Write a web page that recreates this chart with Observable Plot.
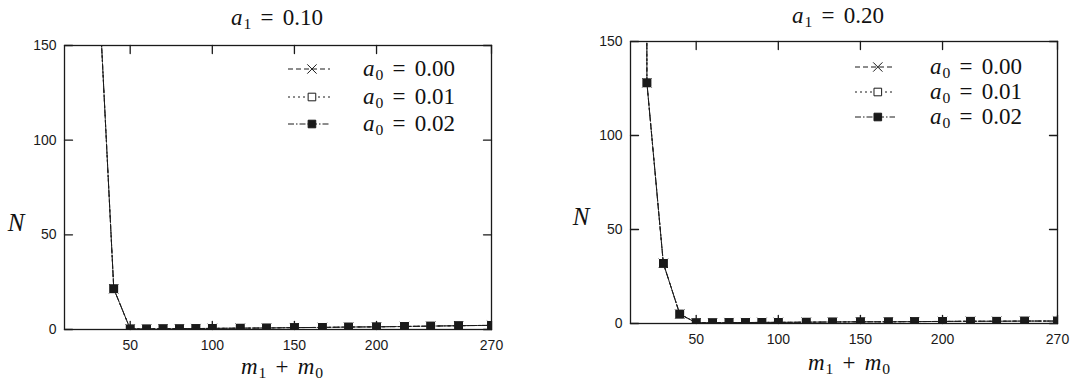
<!DOCTYPE html>
<html>
<head>
<meta charset="utf-8">
<script src="https://cdn.jsdelivr.net/npm/d3@7"></script>
<script src="https://cdn.jsdelivr.net/npm/@observablehq/plot@0.6"></script>
<style>
  html, body { margin: 0; padding: 0; background: #fff; }
  #wrap { position: relative; width: 1073px; height: 380px; overflow: hidden; }
  .panel { position: absolute; top: 0; }
  .lbl { position: absolute; transform: translate(-50%, -50%); font-family: "Liberation Serif", "DejaVu Serif", serif; color: #111; white-space: nowrap; line-height: 1; }
  .lbl i, .row i { font-style: italic; }
  .lbl sub, .row sub { font-size: 0.68em; vertical-align: -0.25em; line-height: 0; margin-left: 1px; }
  .op { margin: 0 0.4em; }
  .leg { position: absolute; font-family: "Liberation Serif", "DejaVu Serif", serif; font-size: 23px; color: #111; }
  .row { position: absolute; left: 0; display: flex; align-items: center; height: 26px; transform: translateY(-50%); white-space: nowrap; }
  .row svg { display: block; }
</style>
</head>
<body>
<div id="wrap">
  <div id="p1" class="panel" style="left:0"></div>
  <div id="p2" class="panel" style="left:536px"></div>
</div>
<script>
// ---- data ----
const seriesNames = ["a0 = 0.00", "a0 = 0.01", "a0 = 0.02"];
const xTicks = [50, 100, 150, 200, 270];
const yTicks = [0, 50, 100, 150];

// panel a1 = 0.10
const mLeft = [30, 40, 50, 60, 70, 80, 90, 100, 117, 133, 150, 167, 183, 200, 217, 233, 250, 270];
const nLeft_a000 = [195, 21.5, 0.3, 0.3, 0.4, 0.4, 0.5, 0.6, 0.7, 0.8, 1.0, 1.1, 1.3, 1.4, 1.6, 1.8, 2.0, 2.2];
const nLeft_a001 = [195, 21.5, 0.3, 0.3, 0.4, 0.4, 0.5, 0.6, 0.7, 0.8, 1.0, 1.1, 1.3, 1.4, 1.6, 1.8, 2.0, 2.2];
const nLeft_a002 = [195, 21.5, 0.3, 0.3, 0.4, 0.4, 0.5, 0.6, 0.7, 0.8, 1.0, 1.1, 1.3, 1.4, 1.6, 1.8, 2.0, 2.2];

// panel a1 = 0.20
const mRight = [10, 20, 30, 40, 50, 60, 70, 80, 90, 100, 117, 133, 150, 167, 183, 200, 217, 233, 250, 270];
const nRight_a000 = [5000, 128, 32, 5, 0.4, 0.4, 0.5, 0.5, 0.6, 0.6, 0.7, 0.8, 0.9, 0.9, 1.0, 1.1, 1.2, 1.2, 1.3, 1.3];
const nRight_a001 = [5000, 128, 32, 5, 0.4, 0.4, 0.5, 0.5, 0.6, 0.6, 0.7, 0.8, 0.9, 0.9, 1.0, 1.1, 1.2, 1.2, 1.3, 1.3];
const nRight_a002 = [5000, 128, 32, 5, 0.4, 0.4, 0.5, 0.5, 0.6, 0.6, 0.7, 0.8, 0.9, 0.9, 1.0, 1.1, 1.2, 1.2, 1.3, 1.3];

function table(ms, arrays) {
  const rows = [];
  arrays.forEach((arr, i) => arr.forEach((n, j) => rows.push({series: seriesNames[i], m: ms[j], N: n})));
  return rows;
}
const dataLeft = table(mLeft, [nLeft_a000, nLeft_a001, nLeft_a002]);
const dataRight = table(mRight, [nRight_a000, nRight_a001, nRight_a002]);

const ink = "#1a1a1a";
const styles = {
  "a0 = 0.00": {dash: "5,3", symbol: "times", fill: "none", stroke: ink},
  "a0 = 0.01": {dash: "2,3", symbol: "square", fill: "white", stroke: ink},
  "a0 = 0.02": {dash: "6,2,1.5,2", symbol: "square", fill: ink, stroke: ink}
};

// straight tick shape for vector marks
const tickShape = {draw(context, l) { context.moveTo(0, 0); context.lineTo(0, -l); }};

function panel(data, m) {
  const T = 8;
  const tick = {length: T, anchor: "start", shape: tickShape, stroke: ink, strokeWidth: 1.3};
  const marks = [
    Plot.frame({stroke: ink, strokeWidth: 1.3}),
    // tick labels
    Plot.axisX({ticks: xTicks, tickSize: 0, tickPadding: 11, label: null}),
    Plot.axisY({ticks: yTicks, tickSize: 0, tickPadding: 8, label: null}),
    // inward tick marks on all four sides
    Plot.vector(xTicks, {x: d => d, frameAnchor: "bottom", rotate: 0, ...tick}),
    Plot.vector(xTicks, {x: d => d, frameAnchor: "top", rotate: 180, ...tick}),
    Plot.vector(yTicks, {y: d => d, frameAnchor: "left", rotate: 90, ...tick}),
    Plot.vector(yTicks, {y: d => d, frameAnchor: "right", rotate: -90, ...tick})
  ];
  for (const s of seriesNames) {
    const d = data.filter(r => r.series === s);
    marks.push(Plot.line(d, {x: "m", y: "N", stroke: ink, strokeWidth: 1, strokeDasharray: styles[s].dash, clip: true}));
  }
  for (const s of seriesNames) {
    const d = data.filter(r => r.series === s);
    const st = styles[s];
    marks.push(Plot.dot(d, {x: "m", y: "N", symbol: st.symbol, r: 4.3, fill: st.fill, stroke: st.stroke, strokeWidth: 1, clip: true}));
  }
  return Plot.plot({
    width: m.width, height: 380,
    marginLeft: m.left, marginRight: m.right, marginTop: m.top, marginBottom: m.bottom,
    x: {domain: [10, 270]},
    y: {domain: [0, 150]},
    style: {fontFamily: "'Liberation Sans', Arial, sans-serif", fontSize: "14px", color: ink, background: "transparent"},
    marks
  });
}

document.getElementById("p1").appendChild(panel(dataLeft, {width: 536, left: 64, right: 45, top: 45, bottom: 51}));
document.getElementById("p2").appendChild(panel(dataRight, {width: 537, left: 94, right: 16, top: 41, bottom: 57}));

// ---- labels (titles, axis names) ----
const wrap = document.getElementById("wrap");
function label(html, x, y, size) {
  const el = document.createElement("div");
  el.className = "lbl";
  el.style.left = x + "px"; el.style.top = y + "px"; el.style.fontSize = size + "px";
  el.innerHTML = html;
  wrap.appendChild(el);
}
label("<i>a</i><sub>1</sub><span class='op'>=</span>0.10", 277, 17, 23);
label("<i>a</i><sub>1</sub><span class='op'>=</span>0.20", 838, 15, 23);
label("<i>N</i>", 16, 222, 25);
label("<i>N</i>", 581, 216, 25);
label("<i>m</i><sub>1</sub><span class='op'>+</span><i>m</i><sub>0</sub>", 282, 366, 23);
label("<i>m</i><sub>1</sub><span class='op'>+</span><i>m</i><sub>0</sub>", 849, 362, 23);

// ---- legends ----
const legendText = ["0.00", "0.01", "0.02"];
function legend(x, rowsY, sampleW, textGap) {
  const box = document.createElement("div");
  box.className = "leg";
  box.style.left = x + "px"; box.style.top = "0px";
  seriesNames.forEach((s, i) => {
    const st = styles[s];
    const row = document.createElement("div");
    row.className = "row";
    row.style.top = rowsY[i] + "px";
    const svg = d3.create("svg").attr("width", sampleW).attr("height", 16);
    svg.append("line").attr("x1", 0).attr("x2", sampleW).attr("y1", 8).attr("y2", 8)
      .attr("stroke", ink).attr("stroke-width", 1).attr("stroke-dasharray", st.dash);
    const sym = st.symbol === "times" ? d3.symbolTimes : d3.symbolSquare;
    svg.append("path").attr("d", d3.symbol(sym, Math.PI * 4.3 * 4.3)())
      .attr("transform", `translate(${sampleW * 0.57},8)`)
      .attr("fill", st.fill).attr("stroke", st.stroke).attr("stroke-width", 1);
    row.appendChild(svg.node());
    const t = document.createElement("span");
    t.style.marginLeft = textGap + "px";
    t.innerHTML = `<i>a</i><sub>0</sub><span class="op">=</span>${legendText[i]}`;
    row.appendChild(t);
    box.appendChild(row);
  });
  wrap.appendChild(box);
}
legend(288, [69, 97, 124], 42, 33);
legend(855, [67, 92, 117], 40, 35);
</script>
</body>
</html>
